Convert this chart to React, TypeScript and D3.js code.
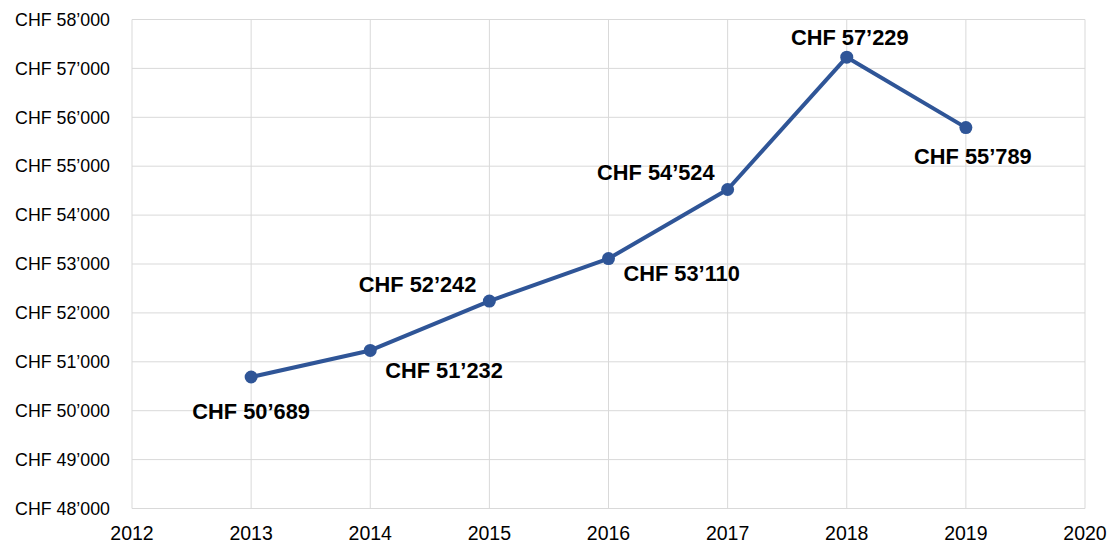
import React, { useEffect, useRef } from 'react';
import * as d3 from 'd3';

const years = [2013, 2014, 2015, 2016, 2017, 2018, 2019];
const values = [50689, 51232, 52242, 53110, 54524, 57229, 55789];
// where each value label sits relative to its point
const labelPlaces = ['below', 'right', 'left', 'right', 'left', 'above', 'below'];
const yTicks = [48000, 49000, 50000, 51000, 52000, 53000, 54000, 55000, 56000, 57000, 58000];
const xTicks = [2012, 2013, 2014, 2015, 2016, 2017, 2018, 2019, 2020];

const W = 1117;
const H = 545;
const margin = { top: 19.5, right: 32, bottom: 36.5, left: 132 };
const lineColor = '#2F5597';

const chf = (v: number) => {
  const s = String(v);
  return 'CHF ' + s.slice(0, s.length - 3) + '\u2019' + s.slice(s.length - 3);
};

const App = () => {
  const ref = useRef<SVGSVGElement>(null);

  useEffect(() => {
    const svg = d3.select(ref.current);
    svg.selectAll('*').remove();

    const x = d3.scaleLinear().domain([2012, 2020]).range([margin.left, W - margin.right]);
    const y = d3.scaleLinear().domain([48000, 58000]).range([H - margin.bottom, margin.top]);

    const font = 'Arial, "Liberation Sans", sans-serif';

    // grid
    svg.append('g')
      .selectAll('line.h')
      .data(yTicks)
      .join('line')
      .attr('x1', x(2012))
      .attr('x2', x(2020))
      .attr('y1', d => y(d))
      .attr('y2', d => y(d))
      .attr('stroke', '#d9d9d9')
      .attr('stroke-width', 1);

    svg.append('g')
      .selectAll('line.v')
      .data(xTicks)
      .join('line')
      .attr('x1', d => x(d))
      .attr('x2', d => x(d))
      .attr('y1', y(58000))
      .attr('y2', y(48000))
      .attr('stroke', '#d9d9d9')
      .attr('stroke-width', 1);

    // y tick labels
    svg.append('g')
      .selectAll('text')
      .data(yTicks)
      .join('text')
      .attr('x', 110)
      .attr('y', d => y(d))
      .attr('dy', '0.35em')
      .attr('text-anchor', 'end')
      .style('font-family', font)
      .style('font-size', '17.8px')
      .attr('fill', '#000')
      .text(d => chf(d));

    // x tick labels
    svg.append('g')
      .selectAll('text')
      .data(xTicks)
      .join('text')
      .attr('x', d => x(d))
      .attr('y', H - margin.bottom + 25)
      .attr('dy', '0.35em')
      .attr('text-anchor', 'middle')
      .style('font-family', font)
      .style('font-size', '19.5px')
      .attr('fill', '#000')
      .text(d => d);

    const pts = years.map((yr, i) => ({ yr, v: values[i], place: labelPlaces[i] }));

    const line = d3.line<{ yr: number; v: number }>()
      .x(d => x(d.yr))
      .y(d => y(d.v));

    svg.append('path')
      .datum(pts)
      .attr('d', line)
      .attr('fill', 'none')
      .attr('stroke', lineColor)
      .attr('stroke-width', 4)
      .attr('stroke-linejoin', 'round');

    svg.append('g')
      .selectAll('circle')
      .data(pts)
      .join('circle')
      .attr('cx', d => x(d.yr))
      .attr('cy', d => y(d.v))
      .attr('r', 6.5)
      .attr('fill', lineColor);

    // label offsets, nudged by hand per point to match the original placement
    const offX = (d: { yr: number; place: string }) => {
      if (d.place === 'right') return 15;
      if (d.place === 'left') return -13;
      if (d.yr === 2019) return 7;
      if (d.yr === 2018) return 3;
      return 0;
    };
    const offY = (d: { yr: number; place: string }) => {
      if (d.yr === 2013) return 34;
      if (d.yr === 2019) return 29;
      if (d.yr === 2016) return 15;
      if (d.place === 'above') return -20;
      if (d.place === 'right') return 20;
      return -17;
    };
    const anchor = (p: string) => (p === 'right' ? 'start' : p === 'left' ? 'end' : 'middle');

    svg.append('g')
      .selectAll('text')
      .data(pts)
      .join('text')
      .attr('x', d => x(d.yr) + offX(d))
      .attr('y', d => y(d.v) + offY(d))
      .attr('dy', '0.35em')
      .attr('text-anchor', d => anchor(d.place))
      .style('font-family', font)
      .style('font-size', '21.8px')
      .style('font-weight', 'bold')
      .attr('fill', '#000')
      .text(d => chf(d.v));
  }, []);

  return (
    <svg
      ref={ref}
      width={W}
      height={H}
      style={{ position: 'absolute', top: 0, left: 0, background: '#fff' }}
    />
  );
};

export default App;
